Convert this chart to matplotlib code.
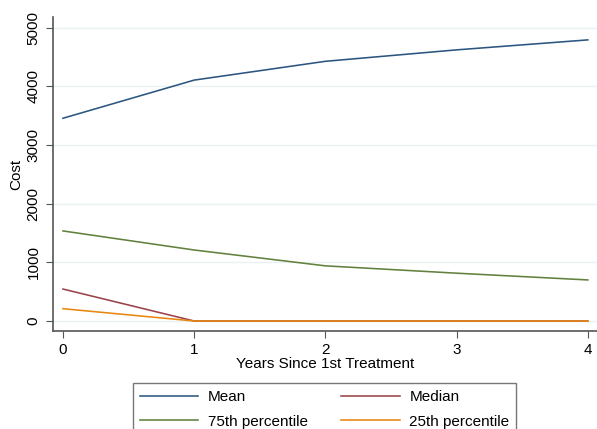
import matplotlib
matplotlib.use("Agg")
import matplotlib.pyplot as plt

years = [0, 1, 2, 3, 4]
mean = [3455, 4105, 4425, 4620, 4790]
median = [545, 0, 0, 0, 0]
p75 = [1535, 1210, 940, 815, 700]
p25 = [210, 0, 0, 0, 0]
yticks = [0, 1000, 2000, 3000, 4000, 5000]

plt.rcParams['font.family'] = ['Liberation Sans', 'DejaVu Sans']
W, H = 597, 429
fig = plt.figure(figsize=(W/100, H/100), dpi=100)
x0, x1 = 53, 597
y_top, y_bot = 17, 331
ax = fig.add_axes([x0/W, 1 - y_bot/H, (x1 - x0)/W, (y_bot - y_top)/H])

lw = 1.15
ax.plot(years, mean, color='#2c5680', lw=lw, label='Mean')
ax.plot(years, median, color='#9a4349', lw=lw, label='Median')
ax.plot(years, p75, color='#62813e', lw=lw, label='75th percentile')
ax.plot(years, p25, color='#e8860f', lw=lw, label='25th percentile')

ax.set_xlim(-0.076, 4.07)
ax.set_ylim(-170, 5180)
ax.set_xticks(years)
ax.set_yticks(yticks)
ax.set_yticklabels([str(v) for v in yticks], rotation=90, va='center')
for y in yticks:
    ax.axhline(y, color='#eaf2f3', lw=1, zorder=0)
for s in ['top', 'right']:
    ax.spines[s].set_visible(False)
for s in ['left', 'bottom']:
    ax.spines[s].set_color('#555555')
    ax.spines[s].set_linewidth(1.2)
ax.tick_params(axis='both', direction='out', length=5, color='#555555', labelsize=11, pad=4)
ax.set_xlabel('Years Since 1st Treatment', fontsize=11, labelpad=0)
ax.set_ylabel('Cost', fontsize=11, labelpad=2)

handles, labels = ax.get_legend_handles_labels()
leg = fig.legend([handles[i] for i in [0, 2, 1, 3]], [labels[i] for i in [0, 2, 1, 3]],
                 ncol=2, loc='upper left', bbox_to_anchor=(133/W, 1 - 383/H),
                 fontsize=11, frameon=True, fancybox=False, edgecolor='#555555',
                 handlelength=3.8, handletextpad=0.65, columnspacing=2.2,
                 borderpad=0.45, borderaxespad=0, labelspacing=0.7)
leg.get_frame().set_linewidth(1.0)

fig.savefig('out.png', dpi=100)
